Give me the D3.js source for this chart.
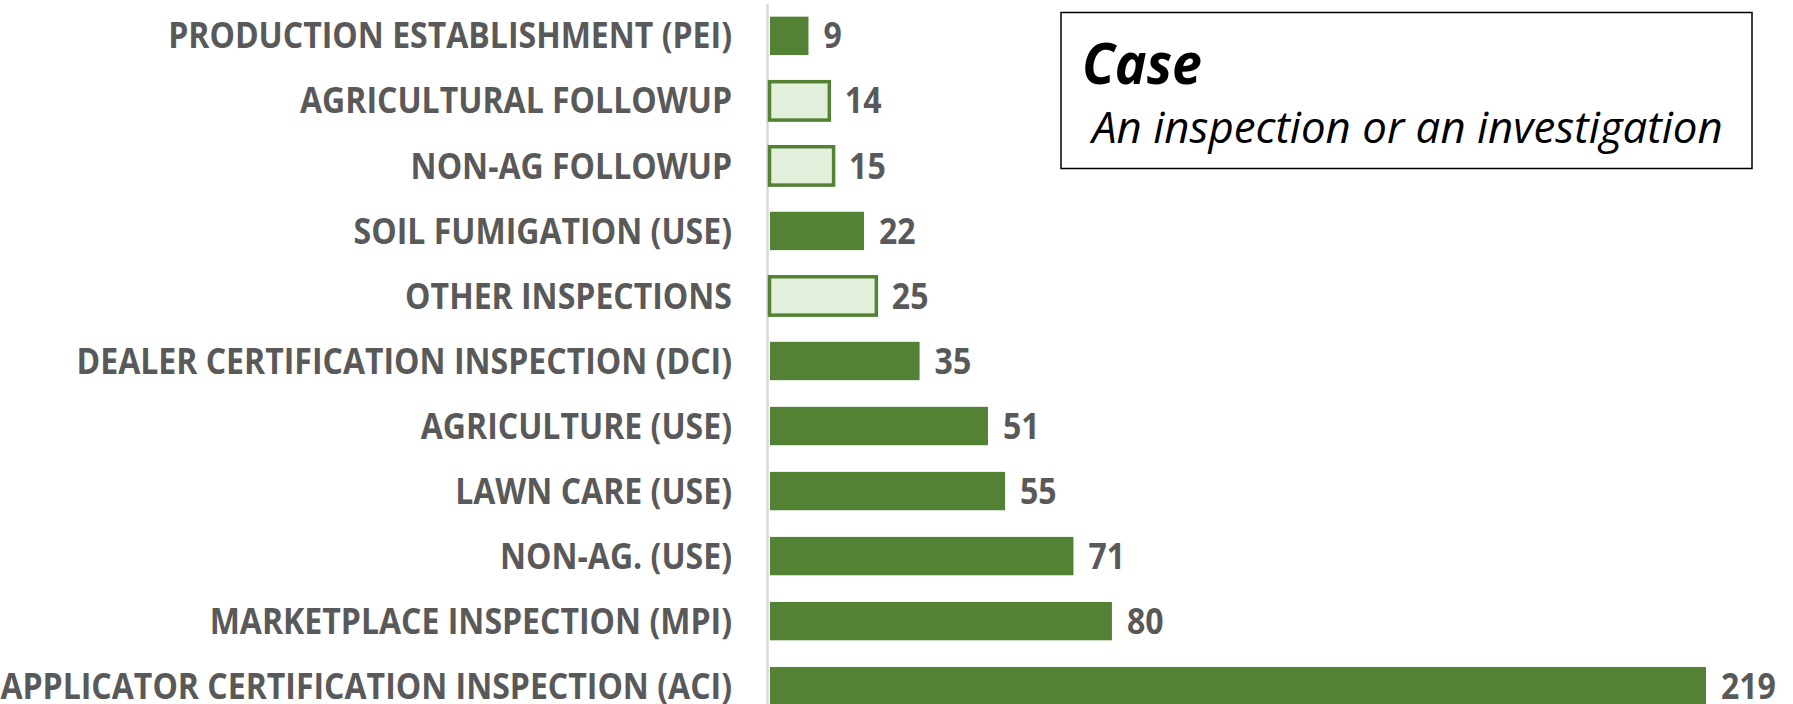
<!DOCTYPE html>
<html>
<head>
<meta charset="utf-8">
<script src="https://cdn.jsdelivr.net/npm/d3@7"></script>
<style>
  body { margin: 0; background: #fff; }
  svg { display: block; }
  .lbl { font-family: "Open Sans", sans-serif; font-weight: 700; fill: #595959; }
</style>
</head>
<body>
<svg width="1793" height="704"></svg>
<script>
var categories = ["PRODUCTION ESTABLISHMENT (PEI)", "AGRICULTURAL FOLLOWUP", "NON-AG FOLLOWUP",
  "SOIL FUMIGATION (USE)", "OTHER INSPECTIONS", "DEALER CERTIFICATION INSPECTION (DCI)",
  "AGRICULTURE (USE)", "LAWN CARE (USE)", "NON-AG. (USE)", "MARKETPLACE INSPECTION (MPI)",
  "APPLICATOR CERTIFICATION INSPECTION (ACI)"];
var counts = [9, 14, 15, 22, 25, 35, 51, 55, 71, 80, 219];
// case type: "inv" = investigation (light bars), "insp" = inspection
var kinds = ["insp", "inv", "inv", "insp", "inv", "insp", "insp", "insp", "insp", "insp", "insp"];
var legendTitle = "Case";
var legendText = "An inspection or an investigation";

var svg = d3.select("svg"),
    width = +svg.attr("width"),
    height = +svg.attr("height");

var x0 = 770;
var xScale = d3.scaleLinear().domain([0, 219]).range([x0, 1706]);
var yScale = d3.scaleBand().domain(categories).range([-10, 732]).paddingInner(0.41).paddingOuter(0.41);

var data = categories.map(function(c, i) { return {cat: c, v: counts[i], k: kinds[i]}; });

// axis line
svg.append("line")
   .attr("x1", 767.5).attr("x2", 767.5)
   .attr("y1", 4).attr("y2", height)
   .attr("stroke", "#d9d9d9").attr("stroke-width", 2.5);

// bars
svg.selectAll(".bar")
   .data(data)
   .enter().append("rect")
   .attr("class", "bar")
   .attr("x", function(d) { return d.k == "inv" ? x0 - 0.5 : x0; })
   .attr("y", function(d) { return yScale(d.cat); })
   .attr("width", function(d) { return xScale(d.v) - x0; })
   .attr("height", yScale.bandwidth())
   .attr("fill", function(d) { return d.k == "inv" ? "#e2efda" : "#548235"; })
   .attr("stroke", function(d) { return d.k == "inv" ? "#548235" : "none"; })
   .attr("stroke-width", 3.5);

// category labels, narrowed to fit like the original font
var labels = svg.selectAll(".cat")
   .data(data)
   .enter().append("text")
   .attr("class", "lbl cat")
   .attr("text-anchor", "end")
   .attr("font-size", 35)
   .attr("dy", "0.36em")
   .text(function(d) { return d.cat; });

var maxW = 0;
labels.each(function() { maxW = Math.max(maxW, this.getComputedTextLength()); });
var sx = 732 / maxW;
labels.attr("transform", function(d) {
  return "translate(732," + (yScale(d.cat) + yScale.bandwidth() / 2) + ") scale(" + sx + ",1)";
});

// value labels
svg.selectAll(".val")
   .data(data)
   .enter().append("text")
   .attr("class", "lbl val")
   .attr("font-size", 35)
   .attr("dy", "0.36em")
   .attr("transform", function(d) {
     return "translate(" + (xScale(d.v) + 15) + "," + (yScale(d.cat) + yScale.bandwidth() / 2) + ") scale(" + sx + ",1)";
   })
   .text(function(d) { return d.v; });

// legend box
var lg = svg.append("g");
lg.append("rect")
  .attr("x", 1061).attr("y", 12.5)
  .attr("width", 691).attr("height", 156)
  .attr("fill", "#fff").attr("stroke", "#000").attr("stroke-width", 1.5);

var t1 = lg.append("text")
  .attr("font-family", "Open Sans, sans-serif")
  .attr("font-weight", 700).attr("font-style", "italic")
  .attr("font-size", 58).attr("fill", "#000")
  .text(legendTitle);
var w1 = t1.node().getComputedTextLength();
t1.attr("transform", "translate(1082,84) scale(" + (120 / w1) + ",1)");

var t2 = lg.append("text")
  .attr("font-family", "Open Sans, sans-serif")
  .attr("font-style", "italic")
  .attr("font-size", 43).attr("fill", "#000")
  .text(legendText);
var w2 = t2.node().getComputedTextLength();
t2.attr("transform", "translate(1092,143) scale(" + (631 / w2) + ",1)");
</script>
</body>
</html>
